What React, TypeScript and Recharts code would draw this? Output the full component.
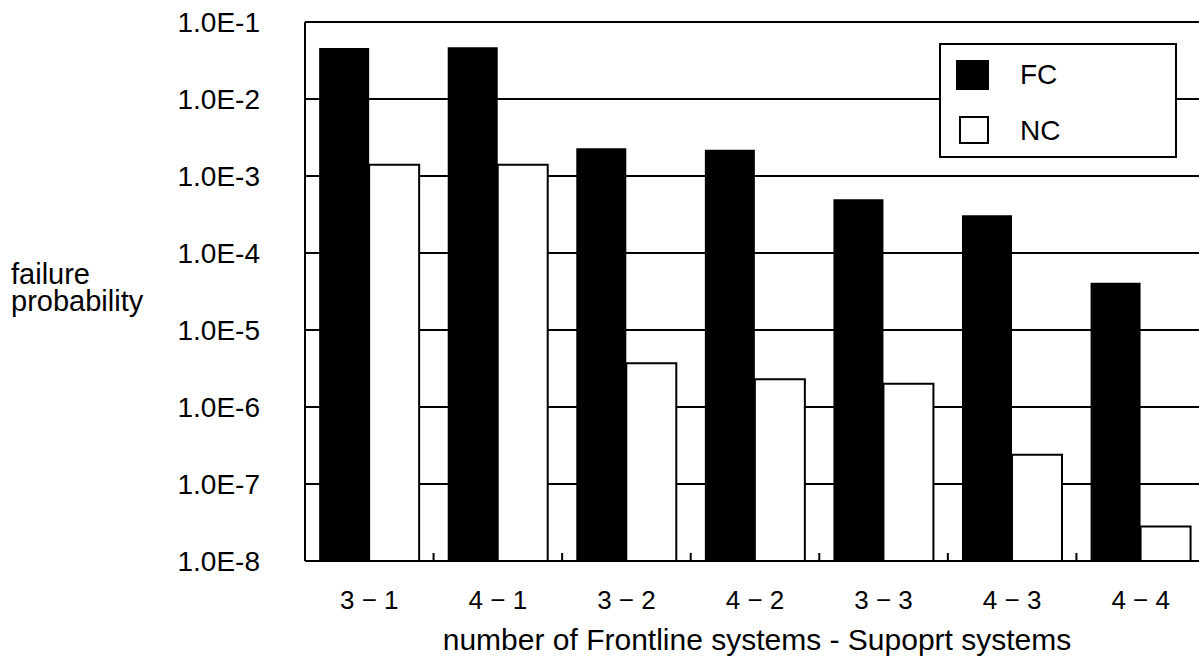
import { BarChart, Bar, XAxis, YAxis, CartesianGrid, Legend } from 'recharts';

const categories = ['3 − 1', '4 − 1', '3 − 2', '4 − 2', '3 − 3', '4 − 3', '4 − 4'];
const fcValues = [4.6e-2, 4.7e-2, 2.3e-3, 2.2e-3, 5.0e-4, 3.1e-4, 4.1e-5];
const ncValues = [1.4e-3, 1.4e-3, 3.7e-6, 2.3e-6, 2.0e-6, 2.4e-7, 2.8e-8];
const yTicks = [1e-8, 1e-7, 1e-6, 1e-5, 1e-4, 1e-3, 1e-2, 1e-1];
const yTickLabels = ['1.0E-8', '1.0E-7', '1.0E-6', '1.0E-5', '1.0E-4', '1.0E-3', '1.0E-2', '1.0E-1'];

const data = categories.map((name, i) => ({ name, FC: fcValues[i], NC: ncValues[i] }));

const FONT = '"Liberation Sans", Arial, Helvetica, sans-serif';

// category label plus the small upward tick at the left boundary of each band
function XTick(props: any) {
  const { x, y, payload, index } = props;
  const half = payload?.offset ?? 64.3;
  return (
    <g>
      {index > 0 && (
        <line x1={x - half} x2={x - half} y1={y} y2={y - 8} stroke="#000" strokeWidth={2} />
      )}
      <text
        x={x}
        y={y + 39}
        textAnchor="middle"
        dominantBaseline="central"
        fontSize={26}
        fontFamily={FONT}
        fill="#000"
      >
        {payload.value}
      </text>
    </g>
  );
}

function LegendBox(props: any) {
  const items = props.payload || [];
  return (
    <svg width={238} height={115} style={{ display: 'block' }}>
      <rect x={1} y={1} width={236} height={113} fill="#fff" stroke="#000" strokeWidth={2} />
      {items.map((it: any, i: number) => {
        const filled = it.value === 'FC';
        const cy = 31 + i * 56;
        return (
          <g key={it.value}>
            <rect
              x={filled ? 18 : 21}
              y={cy - 13}
              width={filled ? 31 : 28}
              height={filled ? 28 : 26}
              fill={filled ? '#000' : '#fff'}
              stroke="#000"
              strokeWidth={2}
            />
            <text
              x={81}
              y={cy}
              dominantBaseline="central"
              fontSize={28}
              fontFamily={FONT}
              fill="#000"
            >
              {it.value}
            </text>
          </g>
        );
      })}
    </svg>
  );
}

export default function App() {
  return (
    <div
      style={{
        position: 'absolute',
        left: 0,
        top: 0,
        width: 1199,
        height: 668,
        overflow: 'hidden',
        background: '#fff',
      }}
    >
      <BarChart
        width={1230}
        height={668}
        data={data}
        margin={{ top: 22, right: 25, bottom: 0, left: 0 }}
        barCategoryGap="11%"
        barGap={0}
      >
        <CartesianGrid vertical={false} stroke="#000" strokeWidth={2} />
        <XAxis
          dataKey="name"
          height={107}
          tickLine={false}
          tickSize={0}
          tickMargin={0}
          axisLine={{ stroke: '#000', strokeWidth: 2 }}
          tick={<XTick />}
          interval={0}
          label={{
            content: (p: any) => {
              const vb = p.viewBox || {};
              return (
                <text
                  x={vb.x + vb.width / 2 + 2}
                  y={650}
                  textAnchor="middle"
                  fontSize={30}
                  fontFamily={FONT}
                  fill="#000"
                >
                  number of Frontline systems - Supoprt systems
                </text>
              );
            },
          }}
        />
        <YAxis
          type="number"
          scale="log"
          domain={[1e-8, 1e-1]}
          ticks={yTicks}
          allowDataOverflow
          width={305}
          tickLine={false}
          tickSize={0}
          tickMargin={45}
          axisLine={{ stroke: '#000', strokeWidth: 2 }}
          tick={{ fill: '#000', fontSize: 28, fontFamily: FONT }}
          tickFormatter={(v: number) => yTickLabels[yTicks.indexOf(v)] ?? String(v)}
          label={{
            content: () => (
              <text fontSize={29} fontFamily={FONT} fill="#000">
                <tspan x={11} y={284}>failure</tspan>
                <tspan x={11} y={311}>probability</tspan>
              </text>
            ),
          }}
        />
        <Legend
          layout="vertical"
          align="center"
          verticalAlign="middle"
          wrapperStyle={{ left: 939, top: 43, width: 238, height: 115 }}
          content={<LegendBox />}
        />
        <Bar dataKey="FC" fill="#000" isAnimationActive={false} />
        <Bar dataKey="NC" fill="#fff" stroke="#000" strokeWidth={2} isAnimationActive={false} />
      </BarChart>
    </div>
  );
}
